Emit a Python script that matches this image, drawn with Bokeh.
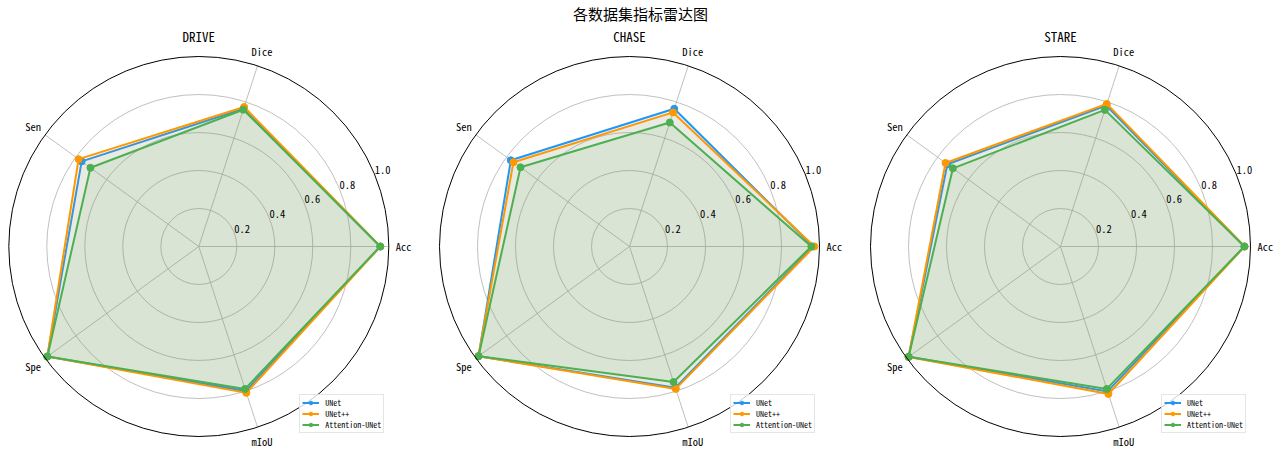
import numpy as np
from bokeh.plotting import figure
from bokeh.models import Range1d, Legend, LegendItem
from bokeh.core.properties import value
from bokeh.embed import file_html
from bokeh.resources import INLINE

# ---------------- data ----------------
categories = ["Acc", "Dice", "Sen", "Spe", "mIoU"]
datasets = ["DRIVE", "CHASE", "STARE"]
models = ["UNet", "UNet++", "Attention-UNet"]
colors = ["#2196F3", "#FF9800", "#4CAF50"]

drive_unet = [0.955, 0.762, 0.762, 0.985, 0.800]
drive_unetpp = [0.956, 0.772, 0.782, 0.986, 0.810]
drive_attn = [0.955, 0.757, 0.705, 0.985, 0.788]

chase_unet = [0.966, 0.762, 0.772, 0.982, 0.782]
chase_unetpp = [0.973, 0.742, 0.755, 0.983, 0.788]
chase_attn = [0.957, 0.686, 0.709, 0.982, 0.750]

stare_unet = [0.968, 0.780, 0.736, 0.988, 0.802]
stare_unetpp = [0.969, 0.789, 0.748, 0.989, 0.816]
stare_attn = [0.968, 0.756, 0.700, 0.988, 0.788]

radial_ticks = [0.2, 0.4, 0.6, 0.8, 1.0]
radial_labels = ["0.2", "0.4", "0.6", "0.8", "1.0"]

all_data = [
    [drive_unet, drive_unetpp, drive_attn],
    [chase_unet, chase_unetpp, chase_attn],
    [stare_unet, stare_unetpp, stare_attn],
]

# ---------------- layout (pixels) ----------------
W, H = 1280, 450
R = 190.0                      # pixels per unit radius
center_px = [198.3, 629.0, 1060.0]
center_py = 246.0              # from top
cx = [(c - center_px[0]) / R for c in center_px]

FONT_NAME = "Noto Sans Mono CJK SC, Noto Sans CJK SC, sans-serif"
FONT = value(FONT_NAME)

p = figure(width=W, height=H, output_backend="svg", toolbar_location=None,
           x_axis_type=None, y_axis_type=None, min_border=0,
           x_range=Range1d(-center_px[0] / R, (W - center_px[0]) / R),
           y_range=Range1d(-(H - center_py) / R, center_py / R))
p.outline_line_color = None
p.xgrid.visible = False
p.ygrid.visible = False
p.background_fill_color = "white"

n = len(categories)
angles = np.arange(n) * 2 * np.pi / n

for k, ds in enumerate(datasets):
    x0 = cx[k]
    # grid circles
    p.circle(x=[x0] * 4, y=[0] * 4, radius=radial_ticks[:-1], fill_alpha=0,
             line_color="#b0b0b0", line_width=0.8)
    # spokes
    for a in angles:
        p.line([x0, x0 + np.cos(a)], [0, np.sin(a)], line_color="#b0b0b0", line_width=0.8)
    # series
    legend_items = []
    for m, model in enumerate(models):
        vals = np.array(all_data[k][m])
        xs = x0 + vals * np.cos(angles)
        ys = vals * np.sin(angles)
        xs_c = np.append(xs, xs[0])
        ys_c = np.append(ys, ys[0])
        p.patch(xs_c, ys_c, fill_color=colors[m], fill_alpha=0.1, line_alpha=0)
        lr = p.line(xs_c, ys_c, line_color=colors[m], line_width=2)
        sr = p.scatter(xs, ys, size=7, marker="circle", fill_color=colors[m], line_color=colors[m])
        legend_items.append(LegendItem(label=model, renderers=[lr, sr]))
    # outer circle
    p.circle(x=[x0], y=[0], radius=[1.0], fill_alpha=0, line_color="black", line_width=1)
    # category labels
    lab_r = 1.078
    p.text(x=list(x0 + lab_r * np.cos(angles)), y=list(lab_r * np.sin(angles)), text=categories,
           text_font=FONT, text_font_size="10.5px", text_align="center",
           text_baseline="middle", text_color="black")
    # radial tick labels
    ta = np.deg2rad(22.5)
    rr = np.array(radial_ticks) + 0.047
    p.text(x=list(x0 + rr * np.cos(ta)), y=list(rr * np.sin(ta)), text=radial_labels,
           text_font=FONT, text_font_size="10.5px", text_align="center",
           text_baseline="middle", text_color="black")
    # subplot title
    p.text(x=[x0], y=[(center_py - 36.0) / R], text=[ds], text_font=FONT,
           text_font_size="13px", text_align="center", text_baseline="middle",
           text_color="black")
    # legend
    leg = Legend(items=legend_items, location=(center_px[k] + 101.0, 17.3),
                 label_text_font=FONT_NAME, label_text_font_size="8px",
                 label_text_color="black",
                 glyph_width=17, glyph_height=9, label_height=9, spacing=-1,
                 padding=2, margin=0, label_standoff=6,
                 border_line_color="#cccccc", border_line_width=1,
                 background_fill_alpha=0.8)
    p.add_layout(leg)

# main title
p.text(x=[(640.0 - center_px[0]) / R], y=[(center_py - 13.3) / R], text=["各数据集指标雷达图"],
       text_font=FONT, text_font_size="15px", text_align="center",
       text_baseline="middle", text_color="black")

open("out.html", "w").write(file_html(p, INLINE))
